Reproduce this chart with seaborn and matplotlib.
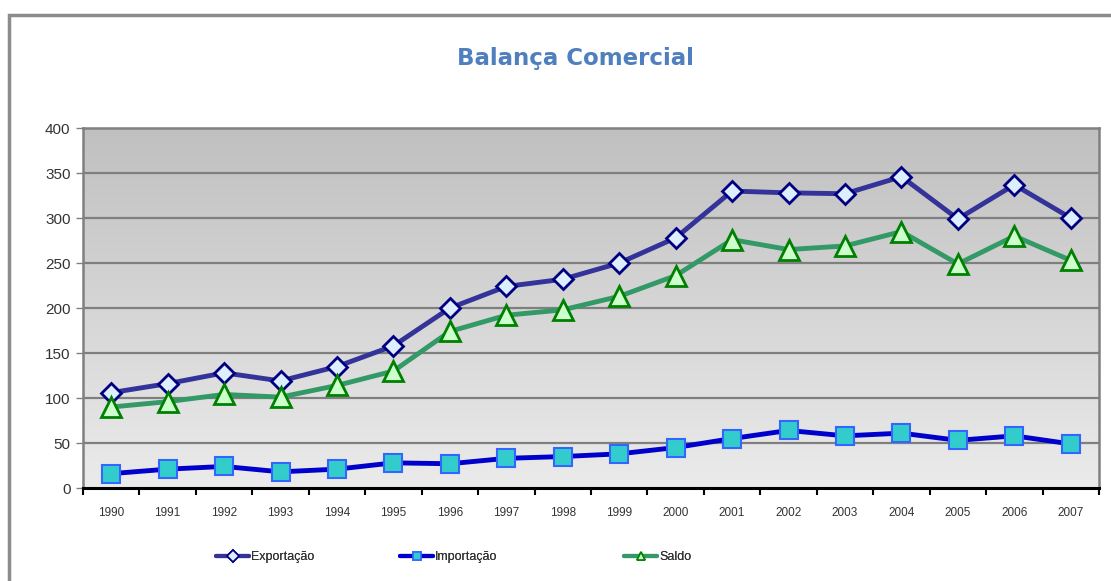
import seaborn as sns
import matplotlib.pyplot as plt
import numpy as np
from matplotlib.patches import Rectangle
from matplotlib.lines import Line2D

# dados
anos = ['1990', '1991', '1992', '1993', '1994', '1995', '1996', '1997', '1998',
        '1999', '2000', '2001', '2002', '2003', '2004', '2005', '2006', '2007']
exportacao = [106, 116, 128, 119, 135, 158, 200, 224, 232, 250, 278, 330, 328, 327, 346, 299, 337, 300]
importacao = [16, 21, 24, 18, 21, 28, 27, 33, 35, 38, 45, 55, 64, 58, 61, 53, 58, 49]
saldo = [90, 96, 104, 101, 114, 130, 174, 192, 198, 213, 236, 276, 265, 269, 285, 249, 280, 253]
y_ticks = [0, 50, 100, 150, 200, 250, 300, 350, 400]

sns.set_style('white')
plt.rcParams['font.family'] = ['Liberation Sans', 'DejaVu Sans']

fig = plt.figure(figsize=(11.11, 5.81), dpi=100)
ax = fig.add_axes([0.0747, 0.160, 0.9145, 0.6196])

# moldura da figura
fig.patches.append(Rectangle((0.008, -0.1), 1.2, 1.074, transform=fig.transFigure,
                             fill=False, edgecolor='#8c8c8c', linewidth=2.5, zorder=-1))

# fundo em gradiente
grad = np.linspace(0, 1, 256).reshape(-1, 1)
ax.imshow(grad, extent=[-0.5, 17.5, 0, 400], aspect='auto', origin='upper',
          cmap=sns.blend_palette(['#c0c0c0', '#ebebeb'], as_cmap=True), zorder=0)

x = np.arange(len(anos))
for v in y_ticks[1:-1]:
    ax.axhline(v, color='#7f7f7f', linewidth=1.6, zorder=1)

estilos = [
    ('Exportação', exportacao, dict(color='#333399', marker='D', markersize=10,
                                    markerfacecolor='#ddeeff', markeredgecolor='#000080',
                                    markeredgewidth=2)),
    ('Importação', importacao, dict(color='#0000cc', marker='s', markersize=13,
                                    markerfacecolor='#33cccc', markeredgecolor='#3366ff',
                                    markeredgewidth=1.5)),
    ('Saldo', saldo, dict(color='#339966', marker='^', markersize=14,
                          markerfacecolor='#ccffcc', markeredgecolor='#008000',
                          markeredgewidth=2)),
]
for nome, vals, kw in estilos:
    sns.lineplot(x=x, y=vals, ax=ax, linewidth=3.5, zorder=3, **kw)

ax.set_xlim(-0.5, 17.5)
ax.set_ylim(0, 400)
ax.set_yticks(y_ticks)
ax.tick_params(axis='y', labelsize=11, labelcolor='#333333', color='#808080', length=5,
               width=1, direction='out', left=True, pad=4)
ax.set_xticks(np.arange(-0.5, 18, 1))
ax.set_xticklabels([])
ax.set_xticks(x, minor=True)
ax.set_xticklabels(anos, minor=True)
ax.tick_params(axis='x', which='major', length=5, width=1.5, color='black', bottom=True)
ax.tick_params(axis='x', which='minor', length=0, labelsize=8.5, colors='#333333', pad=14)

for s in ['left', 'top', 'right']:
    ax.spines[s].set_color('#808080')
    ax.spines[s].set_linewidth(1.8)
ax.spines['bottom'].set_color('black')
ax.spines['bottom'].set_linewidth(2.2)
ax.set_xlabel('')
ax.set_ylabel('')

fig.text(0.518, 0.90, 'Balança Comercial', ha='center', va='center', fontsize=16.5,
         fontweight='bold', color='#4f7fbd', family=['DejaVu Sans'])

# legenda (três blocos separados, como no original)
posicoes = [218, 402, 626]
for (nome, vals, kw), px in zip(estilos, posicoes):
    kw2 = dict(kw)
    kw2['markersize'] = 6
    kw2['markeredgewidth'] = 1.2
    h = Line2D([], [], linewidth=3, **kw2)
    leg = fig.legend([h], [nome], loc='center left', bbox_to_anchor=(px / 1111 - 0.006, 0.041),
                     frameon=False, fontsize=9, handlelength=2.6, handletextpad=0.2,
                     labelcolor='#333333', borderaxespad=0)
    fig.add_artist(leg)

fig.savefig('out.png', dpi=100)
